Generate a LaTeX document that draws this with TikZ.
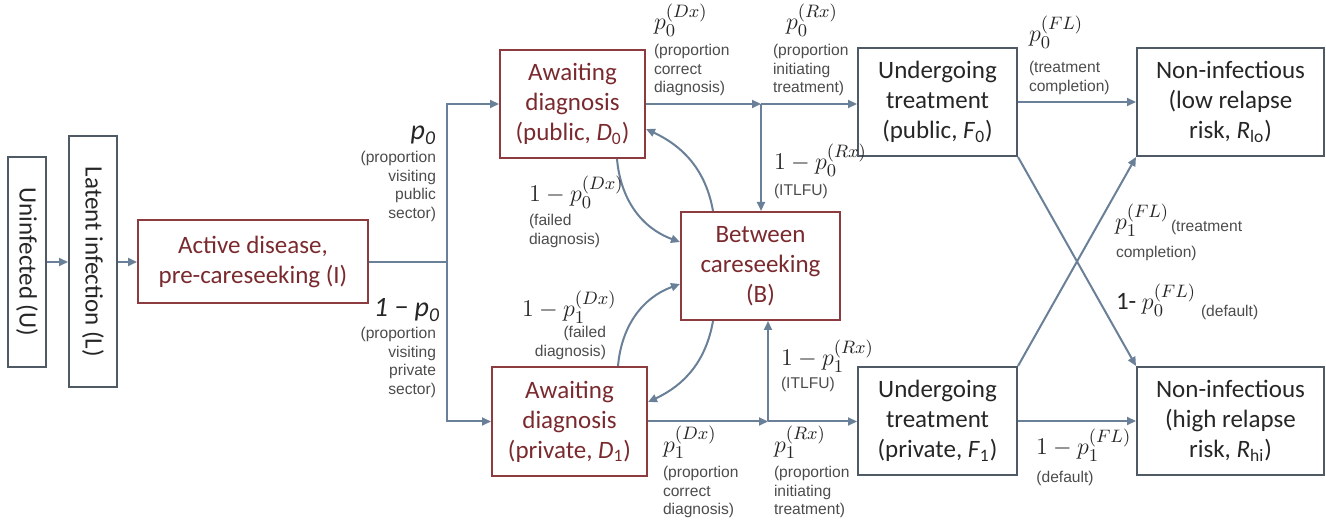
\documentclass[tikz,border=0pt]{standalone}
\usepackage{fontspec}
\setmainfont{Carlito}
\newfontfamily\labfont{Liberation Sans}
\usepackage{tikz}
\usetikzlibrary{arrows.meta}

\definecolor{flowblue}{HTML}{6A8098}
\definecolor{boxred}{HTML}{8C3B3E}
\definecolor{txtred}{HTML}{7A2A2E}
\definecolor{boxgray}{HTML}{505A64}

\begin{document}
\begin{tikzpicture}[x=0.5pt, y=0.5pt, line width=1pt,
	state/.style={draw=boxgray, text=black!85, inner sep=1pt, align=center, font=\fontsize{12.5}{15}\selectfont},
	tbstate/.style={state, draw=boxred, text=txtred},
	flow/.style={draw=flowblue, -{Triangle[length=4.5pt,width=4pt]}},
	line/.style={draw=flowblue},
	eq/.style={inner sep=0pt, text=black!85, font=\fontsize{12.5}{14}\selectfont},
	peq/.style={eq, font=\fontsize{14}{16}\selectfont\itshape},
	lab/.style={inner sep=0pt, align=left, text=black!70, font=\labfont\fontsize{7.8}{9.4}\selectfont}]
		\useasboundingbox (0,0) rectangle (1326,519);
		% infection
		\node[state, rotate=-90, minimum width=105pt, minimum height=19pt] (U) at (27,257) {Uninfected (U)};
		\node[state, rotate=-90, minimum width=125.5pt, minimum height=24pt] (L) at (93,257) {Latent infection (L)};
		\node[tbstate, minimum width=115pt, minimum height=41.5pt] (I) at (253,257) {Active disease,\\pre-careseeking (I)};
		% diagnosis
		\node[tbstate, minimum width=72.5pt, minimum height=54pt] (D0) at (572.5,415) {Awaiting\\diagnosis\\(public, \textit{D}\textsubscript{0})};
		\node[tbstate, minimum width=77.5pt, minimum height=54.5pt] (D1) at (569.5,97.5) {Awaiting\\diagnosis\\(private, \textit{D}\textsubscript{1})};
		\node[tbstate, minimum width=79.5pt, minimum height=54pt] (B) at (760.5,253) {Between\\careseeking\\(B)};
		% treatment
		\node[state, minimum width=79.5pt, minimum height=54pt] (F0) at (937.5,417) {Undergoing\\treatment\\(public, \textit{F}\textsubscript{0})};
		\node[state, minimum width=79.5pt, minimum height=54pt] (F1) at (937.5,98) {Undergoing\\treatment\\(private, \textit{F}\textsubscript{1})};
		% outcome
		\node[state, minimum width=93.5pt, minimum height=54pt] (Rlo) at (1230.5,417) {Non-infectious\\(low relapse\\risk, \textit{R}\textsubscript{lo})};
		\node[state, minimum width=93.5pt, minimum height=54pt] (Rhi) at (1230.5,98) {Non-infectious\\(high relapse\\risk, \textit{R}\textsubscript{hi})};

		% progression
		\draw[flow] (U.north) -- (L.south);
		\draw[flow] (L.north) -- (I.west);
		% sector split
		\coordinate (split) at (447,257);
		\draw[line] (I.east) -- (split);
		\draw[flow] (split) |- (D0.west);
		\draw[flow] (split) |- (D1.west);
		% public pathway
		\coordinate (jt) at (761,415);
		\draw[flow] (D0.east) -- (jt);
		\draw[flow] (jt) -- (jt -| F0.west);
		\draw[flow] (jt) -- (jt |- B.north);
		% private pathway
		\coordinate (jb) at (768,97.5);
		\draw[flow] (D1.east) -- (jb);
		\draw[flow] (jb) -- (jb -| F1.west);
		\draw[flow] (jb) -- (jb |- B.south);
		% failed diagnosis and return
		\draw[flow] ([xshift=22.25pt]D0.south) to[out=-85,in=160] ([yshift=12pt]B.west);
		\draw[flow] ([xshift=-23.75pt]B.north) to[out=100,in=-25] ([yshift=-12.5pt]D0.east);
		\draw[flow] ([xshift=24.25pt]D1.north) to[out=85,in=200] ([yshift=-9pt]B.west);
		\draw[flow] ([xshift=-23.75pt]B.south) to[out=-100,in=25] ([yshift=9.75pt]D1.east);
		% completion and default
		\draw[flow] (F0.east) -- (Rlo.west);
		\draw[flow] (F1.east) -- (Rhi.west);
		\draw[flow] (F0.south east) -- (Rhi.north west);
		\draw[flow] (F1.north east) -- (Rlo.south west);

		% sector labels
		\node[peq, anchor=base east] (ppub) at (437,379) {p\textsubscript{0}};
		\node[lab, anchor=north east, align=right] (ppubtxt) at (437,369) {(proportion\\visiting\\public\\sector)};
		\node[peq, anchor=base east] (ppri) at (441,202) {1 \char"2212{} p\textsubscript{0}};
		\node[lab, anchor=north east, align=right] (ppritxt) at (437,193) {(proportion\\visiting\\private\\sector)};
		% diagnosis labels
		\node[eq, anchor=base west] (dx0) at (653,489) {$p_0^{(Dx)}$};
		\node[lab, anchor=north west] (dx0txt) at (653,476) {(proportion\\correct\\diagnosis)};
		\node[eq, anchor=base west] (fd0) at (528,317) {$1-p_0^{(Dx)}$};
		\node[lab, anchor=north west] (fd0txt) at (528,306) {(failed\\diagnosis)};
		\node[eq, anchor=base west] (fd1) at (521,202) {$1-p_1^{(Dx)}$};
		\node[lab, anchor=north east, align=right] (fd1txt) at (607,194) {(failed\\diagnosis)};
		\node[eq, anchor=base west] (dx1) at (662,67) {$p_1^{(Dx)}$};
		\node[lab, anchor=north west] (dx1txt) at (662,54) {(proportion\\correct\\diagnosis)};
		% treatment initiation labels
		\node[eq, anchor=base west] (rx0) at (785,489) {$p_0^{(Rx)}$};
		\node[lab, anchor=north west] (rx0txt) at (772,476) {(proportion\\initiating\\treatment)};
		\node[eq, anchor=base west] (lf0) at (773,349) {$1-p_0^{(Rx)}$};
		\node[lab, anchor=north west] (lf0txt) at (773,336) {(ITLFU)};
		\node[eq, anchor=base west] (lf1) at (780,153) {$1-p_1^{(Rx)}$};
		\node[lab, anchor=north west] (lf1txt) at (780,143) {(ITLFU)};
		\node[eq, anchor=base west] (rx1) at (773,67) {$p_1^{(Rx)}$};
		\node[lab, anchor=north west] (rx1txt) at (773,54) {(proportion\\initiating\\treatment)};
		% follow-up labels
		\node[eq, anchor=base west] (fl0) at (1028,477) {$p_0^{(FL)}$};
		\node[lab, anchor=north west] (fl0txt) at (1028,459) {(treatment\\completion)};
		\node[eq, anchor=base west] (fl1) at (1114,289) {$p_1^{(FL)}$};
		\node[lab, anchor=base west] (fl1txt) at (1170,287) {(treatment};
		\node[lab, anchor=north west] (fl1txt2) at (1115,274) {completion)};
		\node[eq, anchor=base west] (df0) at (1115,209) {1- $p_0^{(FL)}$};
		\node[lab, anchor=base west] (df0txt) at (1200,202) {(default)};
		\node[eq, anchor=base west] (df1) at (1035,64) {$1-p_1^{(FL)}$};
		\node[lab, anchor=north] (df1txt) at (1065,49) {(default)};
	\end{tikzpicture}
\end{document}
